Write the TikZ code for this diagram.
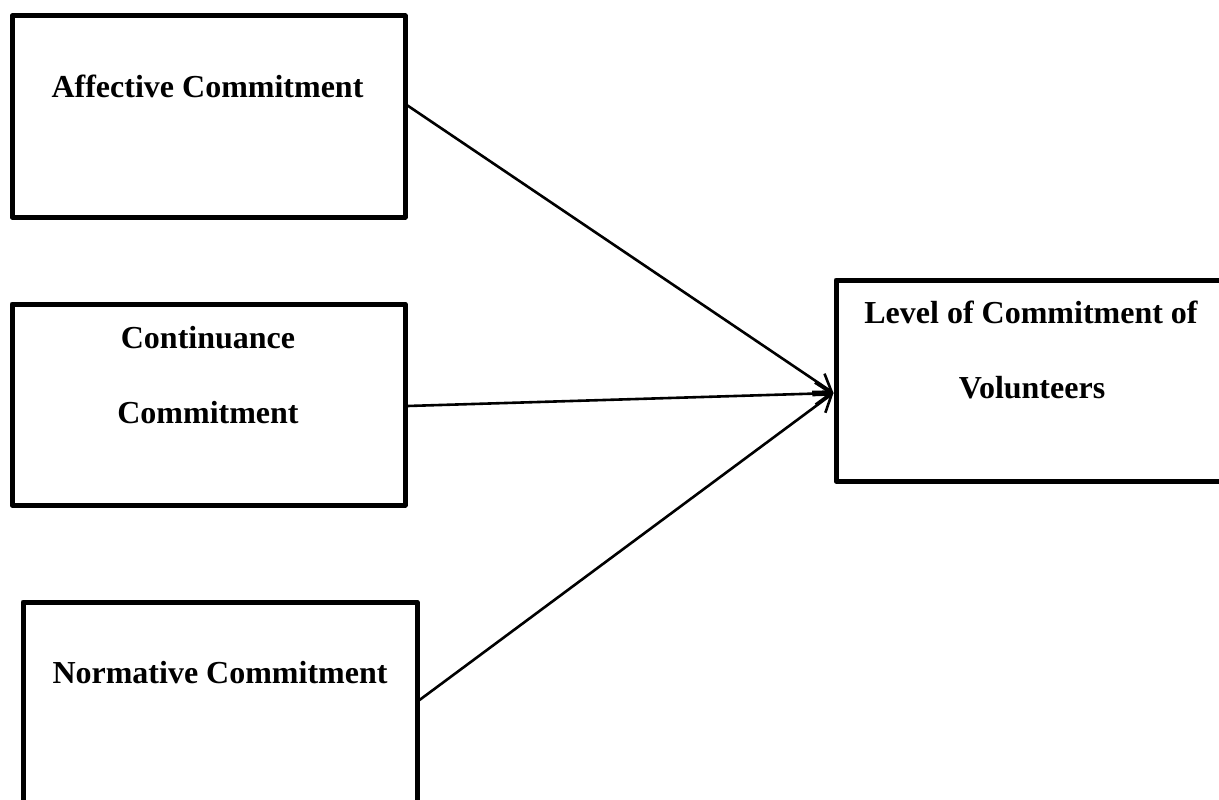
\documentclass[tikz,border=0pt]{standalone}
\usepackage{fontspec}
\setmainfont{Liberation Serif}
\usetikzlibrary{arrows.meta}
\begin{document}
\begin{tikzpicture}[x=1pt,y=-1pt,
  box/.style={draw=black, line width=5pt, line join=round, rectangle, inner sep=0pt, fill=white},
  lbl/.style={anchor=base, inner sep=0pt, font=\fontsize{32}{38}\selectfont\bfseries},
  conn/.style={line width=2.6pt, -{Straight Barb[length=16pt,width=22pt,line width=2.6pt]}}]
\useasboundingbox (0,0) rectangle (1219,800);
\clip (0,0) rectangle (1219,800);
\fill[white] (0,0) rectangle (1219,800);
% boxes
\node[box, minimum width=393pt, minimum height=201pt] (aff) at (208.5,116.5) {};
\node[box, minimum width=393pt, minimum height=201pt] (con) at (208.5,404.5) {};
\node[box, minimum width=394pt, minimum height=218pt] (nor) at (220,711) {};
\node[box, minimum width=394pt, minimum height=201pt] (lvl) at (1033,380.5) {};
% labels
\node[lbl] (affT) at (207.5,98) {Affective Commitment};
\node[lbl] (conT1) at (208,348) {Continuance};
\node[lbl] (conT2) at (208,423) {Commitment};
\node[lbl] (norT) at (220,683) {Normative Commitment};
\node[lbl] (lvlT1) at (1031,323) {Level of Commitment of};
\node[lbl] (lvlT2) at (1032,398) {Volunteers};
% connectors
\coordinate (tip) at ([yshift=-12.5pt]lvl.west);
\draw[conn] ([yshift=11pt]aff.east) -- (tip);
\draw[conn] ([yshift=-1.5pt]con.east) -- (tip);
\draw[conn] ([yshift=11pt]nor.east) -- (tip);
\end{tikzpicture}
\end{document}
